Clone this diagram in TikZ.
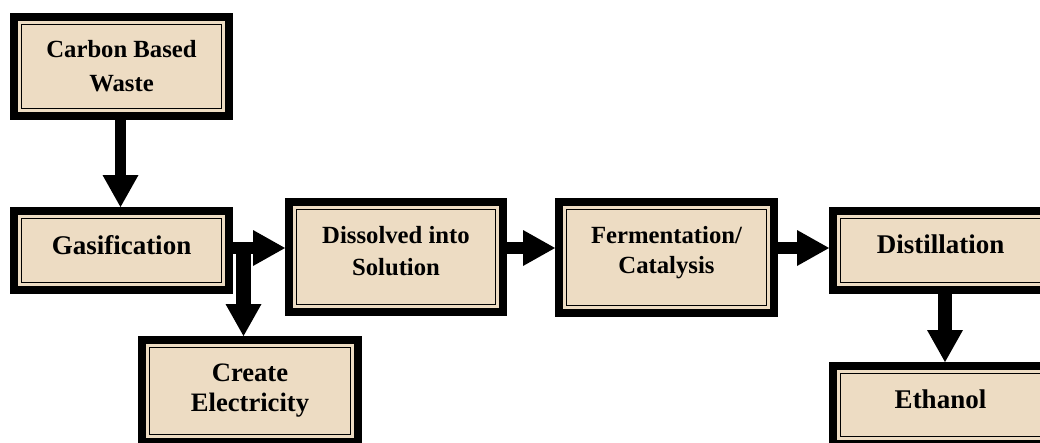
\documentclass[tikz,border=0pt]{standalone}
\usepackage{fontspec}
\setmainfont{Liberation Serif}
\usetikzlibrary{arrows.meta,calc}
\definecolor{boxtan}{RGB}{237,220,195}
\begin{document}
\begin{tikzpicture}[x=1pt,y=-1pt,
  box/.style={draw=black, line width=8pt, fill=boxtan, inner sep=0pt, outer sep=4pt, align=center,
    path picture={\draw[black,line width=1.7pt]
      ([shift={(7.5pt,-7.5pt)}]path picture bounding box.north west) rectangle
      ([shift={(-7.5pt,7.5pt)}]path picture bounding box.south east);}},
  arr/.style={line width=12pt, -{Triangle[width=36pt,length=32pt,line width=0pt]}},
]
\useasboundingbox (0,0) rectangle (1040,442);

\node[box, minimum width=215pt, minimum height=99pt, font=\fontsize{24.7}{34}\selectfont\bfseries]
  (cbw) at (121.5,66.5) {Carbon Based\\Waste};
\node[box, minimum width=215pt, minimum height=79pt, text depth=12pt, font=\fontsize{27}{30}\selectfont\bfseries]
  (gas) at (121.5,250.5) {Gasification};
\node[box, minimum width=214pt, minimum height=110pt, text depth=13pt, font=\fontsize{24.7}{32}\selectfont\bfseries]
  (dis) at (396,257) {Dissolved into\\Solution};
\node[box, minimum width=215pt, minimum height=111pt, text depth=15pt, font=\fontsize{24.7}{30}\selectfont\bfseries]
  (fer) at (666.5,257.5) {Fermentation/\\Catalysis};
\node[box, minimum width=215pt, minimum height=79pt, text depth=12pt, font=\fontsize{27}{30}\selectfont\bfseries]
  (dist) at (940.5,250.5) {Distillation};
\node[box, minimum width=215pt, minimum height=78pt, text depth=12pt, font=\fontsize{27}{30}\selectfont\bfseries]
  (eth) at (940.5,405) {Ethanol};
\node[box, minimum width=216pt, minimum height=102pt, font=\fontsize{26.6}{30}\selectfont\bfseries]
  (ele) at (250,391) {Create\\Electricity};

\coordinate (br) at (243.5,248);

\draw[arr, line width=11pt] ([xshift=-1pt]cbw.south) -- ([xshift=-1pt]gas.north);
\draw[arr] (gas.east |- br) -- (dis.west |- br);
\draw[arr, line width=15pt] (br) -- (br |- ele.north);
\draw[arr] (dis.east |- br) -- (fer.west |- br);
\draw[arr] (fer.east |- br) -- (dist.west |- br);
\draw[arr, line width=14pt] ([xshift=4.5pt]dist.south) -- ([xshift=4.5pt]dist.south |- eth.north);
\end{tikzpicture}
\end{document}
